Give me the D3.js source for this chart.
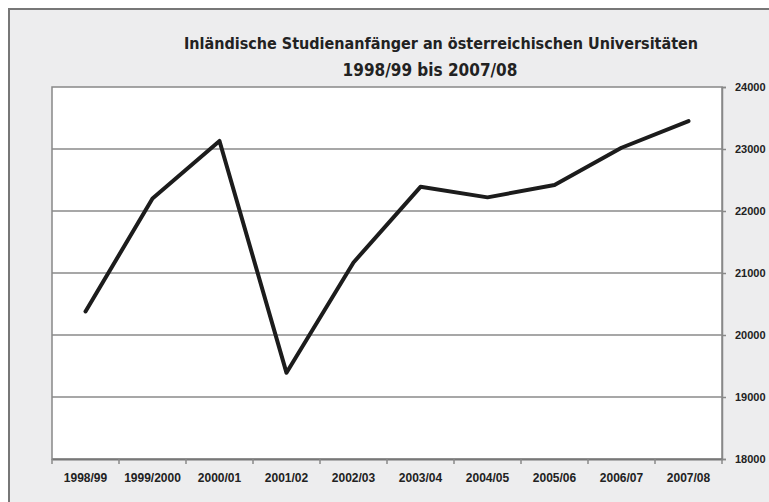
<!DOCTYPE html>
<html>
<head>
<meta charset="utf-8">
<script src="https://cdn.jsdelivr.net/npm/d3@7"></script>
<style>
	body {margin: 0; background: #fff;}
	text {font-weight: bold; fill: #222;}
	.title {font-family: "DejaVu Sans Condensed", "Liberation Sans", sans-serif;}
	.tick text {font-family: "Liberation Sans", Arial, sans-serif;}
</style>
</head>
<body>
<div id="chart"></div>
<script>
var years = ['1998/99', '1999/2000', '2000/01', '2001/02', '2002/03', '2003/04', '2004/05', '2005/06', '2006/07', '2007/08'];
var students = [20380, 22200, 23130, 19390, 21170, 22390, 22220, 22420, 23020, 23450];
var yTicks = [18000, 19000, 20000, 21000, 22000, 23000, 24000];
var titleLines = ['Inländische Studienanfänger an österreichischen Universitäten', '1998/99 bis 2007/08'];

(function(){
	var width = 769, height = 502;
	var plot = {left: 52, top: 87, right: 722, bottom: 459};

	var svg = d3.select('#chart')
		.append('svg')
			.attr('width', width)
			.attr('height', height);

	// outer frame
	svg.append('rect')
		.attr('x', 9).attr('y', 9)
		.attr('width', width + 10).attr('height', height + 10)
		.style('fill', '#ededee')
		.style('stroke', '#777')
		.style('stroke-width', 2);

	svg.selectAll('.title')
		.data(titleLines)
		.enter().append('text')
			.attr('class', 'title')
			.attr('x', function(d,i) {return i ? 430 : 441;})
			.attr('y', function(d,i) {return i ? 76 : 49;})
			.attr('text-anchor', 'middle')
			.style('font-size', function(d,i) {return i ? '17px' : '16px';})
			.text(function(d) {return d;});

	var x = d3.scaleBand().domain(years).range([plot.left, plot.right]);
	var y = d3.scaleLinear().domain([18000, 24000]).range([plot.bottom, plot.top]);

	svg.append('rect')
		.attr('x', plot.left).attr('y', plot.top)
		.attr('width', plot.right - plot.left).attr('height', plot.bottom - plot.top)
		.style('fill', '#fff')
		.style('stroke', '#888')
		.style('stroke-width', 1.5);

	// gridlines
	svg.append('g')
		.selectAll('line')
		.data(yTicks.slice(1, -1))
		.enter().append('line')
			.attr('x1', plot.left).attr('x2', plot.right)
			.attr('y1', function(d) {return y(d);})
			.attr('y2', function(d) {return y(d);})
			.style('stroke', '#8a8a8a')
			.style('stroke-width', 1.5);

	// right value axis
	var yAxis = svg.append('g')
		.attr('transform', 'translate(' + plot.right + ',0)')
		.call(d3.axisRight(y).tickValues(yTicks).tickSize(4).tickPadding(9).tickFormat(d3.format('d')));
	yAxis.select('.domain').style('stroke', '#888').style('stroke-width', 1.5);
	yAxis.selectAll('line').style('stroke', '#888').style('stroke-width', 1.5);
	yAxis.selectAll('text').style('font-size', '11px').style('fill', '#222');

	// category axis, ticks between categories
	var xAxis = svg.append('g')
		.attr('transform', 'translate(0,' + plot.bottom + ')')
		.call(d3.axisBottom(x).tickSize(0).tickPadding(14));
	xAxis.select('.domain').style('stroke', '#777').style('stroke-width', 2);
	xAxis.selectAll('text').style('font-size', '12px').style('fill', '#222');
	xAxis.selectAll('.sep')
		.data(years.concat(['end']))
		.enter().append('line')
			.attr('class', 'sep')
			.attr('x1', function(d,i) {return plot.left + i*x.step();})
			.attr('x2', function(d,i) {return plot.left + i*x.step();})
			.attr('y1', 0).attr('y2', 5)
			.style('stroke', '#888')
			.style('stroke-width', 1.5);

	var line = d3.line()
		.x(function(d,i) {return x(years[i]) + x.bandwidth()/2;})
		.y(function(d) {return y(d);});

	svg.append('path')
		.datum(students)
		.attr('d', line)
		.style('fill', 'none')
		.style('stroke', '#1c1c1c')
		.style('stroke-width', 4)
		.style('stroke-linejoin', 'round')
		.style('stroke-linecap', 'round');
})();
</script>
</body>
</html>
